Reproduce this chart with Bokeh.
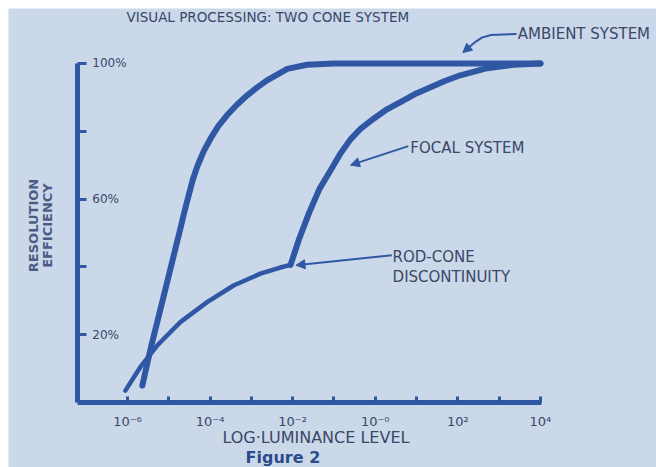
import math
from bokeh.plotting import figure
from bokeh.models import FixedTicker, Arrow, NormalHead, Range1d, Spacer
from bokeh.layouts import row, column
from bokeh.core.properties import value
from bokeh.embed import file_html
from bokeh.resources import INLINE

# ---- data (x = log10 luminance, y = resolution efficiency %) ----
ambient_log_lum = [-5.64, -5.44, -5.20, -4.96, -4.72, -4.62, -4.52, -4.42, -4.31, -4.15,
                   -3.99, -3.80, -3.59, -3.35, -3.10, -2.85, -2.62, -2.13, -1.65, -1.0, 4.0]
ambient_eff = [5.0, 15.8, 27.6, 39.4, 51.2, 56.3, 61.0, 65.6, 69.6, 74.2,
               77.8, 81.5, 84.7, 87.8, 90.6, 93.0, 95.0, 98.4, 99.6, 100, 100]

rod_log_lum = [-6.05, -5.69, -5.28, -4.72, -4.07, -3.43, -2.78, -2.30, -2.05]
rod_eff = [3.5, 10.4, 16.8, 23.7, 29.6, 34.5, 38.0, 39.8, 40.6]

cone_log_lum = [-2.05, -1.85, -1.60, -1.35, -1.08, -0.85, -0.60, -0.35, -0.04, 0.25,
                0.61, 0.95, 1.34, 1.70, 2.06, 2.71, 3.35, 4.0]
cone_eff = [40.6, 48.0, 56.0, 63.0, 68.5, 73.3, 77.6, 80.8, 83.7, 86.2,
            88.6, 90.9, 93.0, 94.9, 96.5, 98.6, 99.6, 100]

x_ticks = [-6, -5, -4, -3, -2, -1, 0, 1, 2, 3, 4]
x_tick_labels = {-6: "10⁻⁶", -4: "10⁻⁴", -2: "10⁻²", 0: "10⁻⁰", 2: "10²", 4: "10⁴"}
y_ticks = [20, 40, 60, 80, 100]
y_label_values = [20, 60, 100]
y_label_texts = ["20%", "60%", "100%"]

title_text = "VISUAL PROCESSING:  TWO CONE SYSTEM"
x_title = "LOG·LUMINANCE LEVEL"
y_title = ["RESOLUTION", "EFFICIENCY"]
caption = "Figure 2"
ambient_text = "AMBIENT SYSTEM"
focal_text = "FOCAL SYSTEM"
rodcone_text = ["ROD-CONE", "DISCONTINUITY"]

# ---- style ----
BG = "#cad8ea"
LINE = "#2f57a3"
TXT = "#3b4767"
FONT = "DejaVu Sans"

AX_X, AX_X_END = -7.21, 4.02     # extent of the x axis line (log units)
p = figure(width=648, height=459, output_backend="svg", toolbar_location=None,
           x_range=Range1d(-8.88, 6.81), y_range=Range1d(-19.17, 116.2),
           min_border_left=0, min_border_right=0, min_border_top=0, min_border_bottom=0)
p.background_fill_color = BG
p.border_fill_color = BG
p.outline_line_color = None
p.grid.visible = False

for ax in (p.xaxis, p.yaxis):
    ax.axis_line_color = LINE
    ax.axis_line_width = 5
    ax.major_tick_line_color = LINE
    ax.major_tick_line_width = 3
    ax.major_tick_out = 0
    ax.minor_tick_line_color = None
    ax.major_label_text_color = TXT
    ax.major_label_text_font = FONT

p.xaxis.fixed_location = 0
p.xaxis.ticker = FixedTicker(ticks=x_ticks)
p.xaxis.major_label_overrides = {t: x_tick_labels.get(t, "") for t in x_ticks}
p.xaxis.major_tick_in = 6
p.xaxis.bounds = (AX_X, AX_X_END)
p.xaxis.major_label_text_font_size = "13px"
p.xaxis.major_label_standoff = 11

p.yaxis.fixed_location = AX_X
p.yaxis.ticker = FixedTicker(ticks=y_ticks)
p.yaxis.major_label_overrides = {t: "" for t in y_ticks}
p.yaxis.major_label_standoff = 0
p.yaxis.major_tick_in = 9
p.yaxis.bounds = (0, 100)

# curves
p.line(ambient_log_lum, ambient_eff, line_color=LINE, line_width=6, line_cap="round", line_join="round")
p.line(rod_log_lum, rod_eff, line_color=LINE, line_width=4.5, line_cap="round", line_join="round")
p.line(cone_log_lum, cone_eff, line_color=LINE, line_width=6, line_cap="round", line_join="round")

# y tick labels inside the axis
p.text(x=[-6.85] * 3, y=y_label_values, text=y_label_texts, text_font=value(FONT),
       text_font_size="12px", text_color=TXT, text_baseline="middle", text_align="left")

# axis titles and caption
p.text(x=[-8.275, -7.936], y=[52.2, 52.2], text=y_title, angle=math.pi / 2, text_font=value(FONT),
       text_font_size="13px", text_font_style="bold", text_color="#4d5c84",
       text_align="center", text_baseline="middle")
p.text(x=[-3.70], y=[-10.3], text=[x_title], text_font=value(FONT), text_font_size="16px",
       text_color=TXT, text_align="left", text_baseline="middle")
p.text(x=[-3.14], y=[-16.2], text=[caption], text_font=value(FONT), text_font_size="16px",
       text_font_style="bold", text_color="#2d4a8c", text_align="left", text_baseline="middle")

# title & annotations
p.text(x=[-2.55], y=[113.6], text=[title_text], text_font=value(FONT), text_font_size="13.5px",
       text_color=TXT, text_baseline="middle", text_align="center")
p.text(x=[3.45], y=[108.8], text=[ambient_text], text_font=value(FONT), text_font_size="15px",
       text_color=TXT, text_baseline="middle", text_align="left")
p.text(x=[0.85], y=[75.0], text=[focal_text], text_font=value(FONT), text_font_size="15px",
       text_color=TXT, text_baseline="middle", text_align="left")
p.text(x=[0.42, 0.42], y=[42.8, 36.9], text=rodcone_text, text_font=value(FONT), text_font_size="15px",
       text_color=TXT, text_baseline="middle", text_align="left")

# arrows
p.line([3.42, 2.80, 2.58, 2.42], [108.7, 108.4, 107.6, 106.3], line_color=LINE, line_width=2)
p.add_layout(Arrow(x_start=2.42, y_start=106.3, x_end=2.12, y_end=103.2, line_color=LINE, line_width=2,
                   end=NormalHead(size=9, fill_color=LINE, line_color=LINE)))
p.add_layout(Arrow(x_start=0.80, y_start=75.6, x_end=-0.60, y_end=70.0, line_color=LINE, line_width=2,
                   end=NormalHead(size=9, fill_color=LINE, line_color=LINE)))
p.add_layout(Arrow(x_start=0.40, y_start=43.4, x_end=-1.92, y_end=40.5, line_color=LINE, line_width=2,
                   end=NormalHead(size=9, fill_color=LINE, line_color=LINE)))

layout = row(Spacer(width=8, height=467), column(Spacer(width=648, height=8), p))
open("out.html", "w").write(file_html(layout, INLINE))
